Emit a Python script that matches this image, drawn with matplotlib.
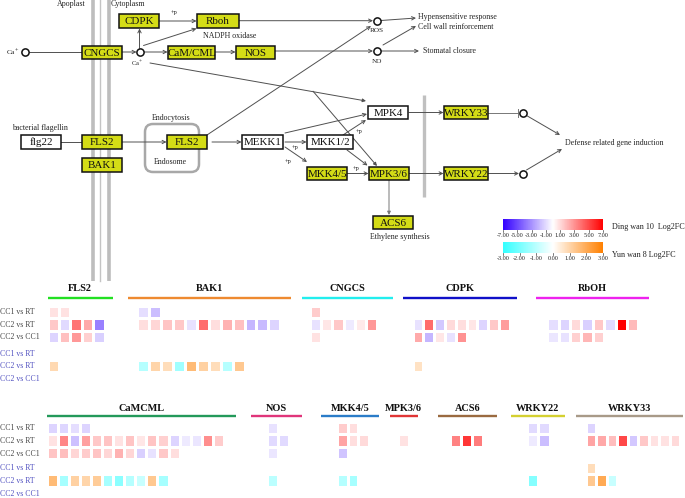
import numpy as np
import matplotlib
matplotlib.use('Agg')
import matplotlib.pyplot as plt
from matplotlib.colors import LinearSegmentedColormap, Normalize
from matplotlib.patches import Rectangle, FancyBboxPatch

plt.rcParams['font.family'] = ['Liberation Serif', 'DejaVu Serif']
plt.rcParams['mathtext.fontset'] = 'stix'

# ---------------- data ----------------
comparisons = ['CC1 vs RT', 'CC2 vs RT', 'CC2 vs CC1']
top_genes = ['FLS2', 'BAK1', 'CNGCS', 'CDPK', 'RbOH']
bottom_genes = ['CaMCML', 'NOS', 'MKK4/5', 'MPK3/6', 'ACS6', 'WRKY22', 'WRKY33']

# Ding wan 10 Log2FC (rows: CC1 vs RT, CC2 vs RT, CC2 vs CC1)
fls2_ding = [[0.8, 0.8], [1.5, -1.0, 3.8, 2.3, -3.5], [-1.2, 1.7, 2.8, 1.3, -1.3]]
bak1_ding = [[-0.9, -1.8], [0.9, 1.1, 1.6, 1.5, -0.8, 4.0, 0.9, 2.1, 1.7, -2.0, -1.9, -1.2], []]
cngcs_ding = [[1.4], [-0.8, 0.7, 1.5, -0.6, 0.6, 2.8], [0.8]]
cdpk_ding = [[], [-0.8, 4.0, -1.5, 1.0, 0.9, 0.7, -1.2, 1.5, 2.7], [2.3, -2.0, 0.7, -0.8, 3.0]]
rboh_ding = [[], [-0.9, -1.2, 1.0, -1.3, 1.5, -1.0, 7.0, 1.9], [-0.7, -0.8, 1.3, 2.0, 1.3]]
camcml_ding = [[-1.2, -1.1, -0.9, -1.2],
               [0.8, 3.3, -1.7, 2.6, 1.5, 1.6, 0.8, 1.6, 0.7, 1.6, 1.3, -1.2, -0.6, -0.7, 3.1, 1.4],
               [1.6, 1.8, 1.1, 1.4, 1.6, 1.1, 2.1, 1.1, -1.3, -0.8, 1.5, 0.9]]
nos_ding = [[-0.8], [-1.0, -1.0], [-0.7]]
mkk45_ding = [[1.4, 0.9], [2.5, 0.9, 1.0], [-1.6]]
mpk36_ding = [[], [0.8], []]
acs6_ding = [[], [3.4, 5.5, 3.6], []]
wrky22_ding = [[-1.0, -1.0], [-0.6, -1.8], []]
wrky33_ding = [[-1.2], [2.5, 2.4, 1.8, 5.0, -1.5, 1.5, 0.8, 0.8, 1.0], []]

# Yun wan 8 Log2FC
fls2_yun = [[], [0.9], []]
bak1_yun = [[], [-1.1, 1.0, 0.8, -1.4, 1.6, 1.1, 0.8, -1.1, 1.3], []]
cngcs_yun = [[], [], []]
cdpk_yun = [[], [0.7], []]
rboh_yun = [[], [], []]
camcml_yun = [[], [1.6, -1.3, 1.1, 1.0, 1.2, -1.3, -1.7, -1.1, -0.8, 1.3, -1.3], []]
nos_yun = [[], [-1.0], []]
mkk45_yun = [[], [-1.1, -1.3], []]
mpk36_yun = [[], [], []]
acs6_yun = [[], [], []]
wrky22_yun = [[], [-1.8], []]
wrky33_yun = [[0.8], [1.3, 2.0, -0.8], []]

ding_ticks = [-7, -5, -3, -1, 1, 3, 5, 7]
yun_ticks = [-3, -2, -1, 0, 1, 2, 3]

# ---------------- figure ----------------
fig = plt.figure(figsize=(6.85, 4.98), dpi=100)
ax = fig.add_axes([0, 0, 1, 1])
ax.set_xlim(0, 685)
ax.set_ylim(498, 0)
ax.axis('off')

ding_cmap = LinearSegmentedColormap.from_list('ding', ['#3300ff', '#ffffff', '#ff0000'])
yun_cmap = LinearSegmentedColormap.from_list('yun', ['#33ffff', '#ffffff', '#ff8000'])
ding_norm = Normalize(-7, 7)
yun_norm = Normalize(-3, 3)

YEL = '#d4dc16'
LC = '#505050'


def box(x0, y0, x1, y1, label, fill=YEL, fs=7.9):
    ax.add_patch(Rectangle((x0, y0), x1 - x0, y1 - y0, facecolor=fill,
                           edgecolor='#111111', lw=1.1, zorder=3))
    ax.text((x0 + x1) / 2, (y0 + y1) / 2 + 0.5, label, ha='center', va='center',
            fontsize=fs, zorder=4, color='#111111')


def arrow(p0, p1, style='->', color=LC, lw=0.7, ms=6):
    ax.annotate('', xy=p1, xytext=p0,
                arrowprops=dict(arrowstyle=style, color=color, lw=lw,
                                shrinkA=0, shrinkB=0, mutation_scale=ms), zorder=2)


def line(p0, p1, color=LC, lw=0.7):
    ax.plot([p0[0], p1[0]], [p0[1], p1[1]], color=color, lw=lw, zorder=2)


def circ(x, y):
    ax.plot(x, y, 'o', ms=5.2, mfc='white', mec='#111111', mew=1.1, zorder=5)


def txt(x, y, s, fs=5.7, ha='center', color='#222222', **kw):
    ax.text(x, y, s, fontsize=fs, ha=ha, va='center', color=color, **kw)


# membranes
ax.plot([93.3, 93.3], [0, 281], color='#bdbdbd', lw=2.6, zorder=1, solid_capstyle='butt')
ax.plot([100.5, 100.5], [0, 281], color='#c4c4c4', lw=1.0, zorder=1)
ax.plot([109.3, 109.3], [0, 281], color='#bdbdbd', lw=2.6, zorder=1, solid_capstyle='butt')
ax.plot([424.3, 424.3], [95, 197], color='#c0c0c0', lw=2.4, zorder=1, solid_capstyle='butt')

txt(71, 4, 'Apoplast')
txt(128, 4, 'Cytoplasm')

# top row
txt(13, 52, 'Ca$^{+}$', fs=5.2)
circ(25, 52)
line((28, 52), (82, 52))
box(82, 46, 122, 59, 'CNGCS')
circ(140, 52)
arrow((122, 52), (136.5, 52))
txt(137, 63.5, 'Ca$^{+}$', fs=4.6)
box(119, 14, 159, 28, 'CDPK')
arrow((139.5, 48.5), (139.5, 28.5))
box(197, 14, 239, 28, 'Rboh')
arrow((159, 21), (196.5, 21))
txt(174, 12, '+p', fs=4.5)
arrow((143.5, 45.5), (196.5, 28.5))
txt(230, 36, 'NADPH oxidase')
box(168, 46, 215, 59, 'CaM/CML')
arrow((143.5, 52), (167.5, 52))
box(236, 46, 275, 59, 'NOS')
arrow((215, 52), (235.5, 52))
circ(376.7, 20.7)
circ(376.7, 50.7)
arrow((239, 20.7), (373, 20.7))
arrow((275, 51), (373, 51))
txt(376.7, 30, 'ROS', fs=5.2)
txt(376.7, 61, 'NO', fs=5.2)
arrow((381, 20.5), (416, 18))
arrow((383, 45), (416, 26))
arrow((381, 51), (419, 51))
txt(418, 16.5, 'Hypensensitive response', ha='left')
txt(418, 27, 'Cell wall reinforcement', ha='left')
txt(423, 51, 'Stomatal closure', ha='left')

# Ca line to MPK4 and branch to MPK3/6
arrow((150, 63), (366, 101), style='-|>', ms=5)
arrow((313, 91.2), (377, 166), style='-|>', ms=5)

# middle row
txt(40, 127.5, 'bacterial flagellin')
box(21, 135, 61, 149, 'flg22', fill='white')
line((61, 142), (82, 142))
box(82, 135, 122, 149, 'FLS2')
box(82, 158, 122, 172, 'BAK1')
ax.add_patch(FancyBboxPatch((145, 124), 54, 48, boxstyle='round,pad=0,rounding_size=8',
                            facecolor='none', edgecolor='#a8a8a8', lw=1.8, zorder=1))
txt(171, 117.5, 'Endocytosis')
txt(170, 161.5, 'Endosome')
arrow((122, 142), (166.5, 142))
box(167, 135, 207, 149, 'FLS2')
arrow((207, 135), (371, 26))
arrow((212, 142), (241.5, 142))
box(242, 135, 283, 149, 'MEKK1', fill='white')
arrow((285, 142), (306.5, 142))
txt(295, 147.5, '+p', fs=4.5)
box(307, 135, 353, 149, 'MKK1/2', fill='white')
arrow((285, 147), (307, 162))
txt(288, 161, '+p', fs=4.5)
box(307, 167, 347, 180, 'MKK4/5')
arrow((347, 173.5), (368.5, 173.5))
txt(356, 168.5, '+p', fs=4.5)
box(369, 167, 409, 180, 'MPK3/6')
arrow((347, 150), (367.5, 165.5))
arrow((285, 133), (367, 114))
arrow((343, 135), (366, 120))
txt(359, 131, '+p', fs=4.5)
box(368, 106, 408, 119, 'MPK4', fill='white')
arrow((389, 180), (389, 215), color='#777777', style='-|>', ms=5)
box(373, 216, 413, 229, 'ACS6')
txt(400, 237, 'Ethylene synthesis')
arrow((409, 112.5), (443.5, 112.5))
box(444, 106, 488, 119, 'WRKY33')
line((488, 112.5), (518, 112.5), color='#777777')
line((518, 108.5), (518, 116.5), color='#777777')
circ(522.7, 112.5)
arrow((409, 173.5), (443.5, 173.5))
box(444, 167, 488, 180, 'WRKY22')
arrow((488, 173.5), (519, 173.5))
circ(522.7, 173.5)
arrow((526.5, 115.5), (560, 135))
arrow((526.5, 170), (562, 149))
txt(565, 143, 'Defense related gene induction', ha='left')

# legends (colour bars)
xs = np.linspace(503, 603, 257)
ax.pcolormesh(xs, [219, 230], np.linspace(-7, 7, 256)[None, :], cmap=ding_cmap, norm=ding_norm,
              shading='flat', zorder=2)
ax.pcolormesh(xs, [242, 253], np.linspace(-3, 3, 256)[None, :], cmap=yun_cmap, norm=yun_norm,
              shading='flat', zorder=2)
for v in ding_ticks:
    x = 503 + (v + 7) / 14 * 100
    line((x, 230), (x, 232), color='#444444', lw=0.5)
    txt(x, 235.5, '%.2f' % v, fs=4.4)
for v in yun_ticks:
    x = 503 + (v + 3) / 6 * 100
    line((x, 253), (x, 255), color='#444444', lw=0.5)
    txt(x, 258.5, '%.2f' % v, fs=4.4)
txt(612, 226.5, 'Ding wan 10  Log2FC', fs=5.9, ha='left')
txt(612, 255, 'Yun wan 8 Log2FC', fs=5.9, ha='left')

# ---------------- heatmaps ----------------
top_layout = {
    'FLS2':  dict(x0=47.7, w=11.4, lx=(47.7, 112.7), c='#22e022', d=fls2_ding, y=fls2_yun),
    'BAK1':  dict(x0=137.0, w=11.95, lx=(127.7, 291), c='#ee8a30', d=bak1_ding, y=bak1_yun),
    'CNGCS': dict(x0=310.0, w=11.2, lx=(302, 393), c='#22eeee', d=cngcs_ding, y=cngcs_yun),
    'CDPK':  dict(x0=412.7, w=10.8, lx=(403, 517), c='#1010c8', d=cdpk_ding, y=cdpk_yun),
    'RbOH':  dict(x0=547.3, w=11.4, lx=(536, 649), c='#ee22ee', d=rboh_ding, y=rboh_yun),
}
bottom_layout = {
    'CaMCML': dict(x0=46.7, w=11.08, lx=(47.5, 236), c='#23995a', d=camcml_ding, y=camcml_yun),
    'NOS':    dict(x0=266.7, w=11.2, lx=(251, 302), c='#e0357a', d=nos_ding, y=nos_yun),
    'MKK4/5': dict(x0=336.7, w=10.9, lx=(321.5, 379), c='#2a7cc8', d=mkk45_ding, y=mkk45_yun),
    'MPK3/6': dict(x0=398.3, w=10.7, lx=(390, 417.7), c='#e03535', d=mpk36_ding, y=mpk36_yun),
    'ACS6':   dict(x0=450.0, w=11.1, lx=(438.5, 496.7), c='#9a6a40', d=acs6_ding, y=acs6_yun),
    'WRKY22': dict(x0=526.7, w=11.7, lx=(510.7, 565), c='#d4d030', d=wrky22_ding, y=wrky22_yun),
    'WRKY33': dict(x0=585.7, w=10.5, lx=(576, 683), c='#a89a88', d=wrky33_ding, y=wrky33_yun),
}


def pad(rows):
    n = max(max(len(r) for r in rows), 1)
    m = np.full((3, n), np.nan)
    for i, r in enumerate(rows):
        m[i, :len(r)] = r
    return m


def draw_block(genes, layout, line_y, title_y, ding_edges, yun_edges):
    for g in genes:
        L = layout[g]
        ax.plot(L['lx'], [line_y, line_y], color=L['c'], lw=1.7, solid_capstyle='butt')
        txt((L['lx'][0] + L['lx'][1]) / 2, title_y, g, fs=7.4, fontweight='bold', color='#111111')
        for rows, edges, cmap, norm in ((L['d'], ding_edges, ding_cmap, ding_norm),
                                        (L['y'], yun_edges, yun_cmap, yun_norm)):
            m = pad(rows)
            if np.all(np.isnan(m)):
                continue
            xe = L['x0'] + np.arange(m.shape[1] + 1) * L['w']
            ax.pcolormesh(xe, edges, np.ma.masked_invalid(m), cmap=cmap, norm=norm,
                          edgecolors='white', linewidth=0.9, shading='flat')
    for i, c in enumerate(comparisons):
        yc = (ding_edges[i] + ding_edges[i + 1]) / 2
        txt(0, yc + 0.5, c, fs=5.6, ha='left', color='#444444')
        yc = (yun_edges[i] + yun_edges[i + 1]) / 2
        txt(0, yc + 0.5, c, fs=5.6, ha='left', color='#4f4fc0')


draw_block(top_genes, top_layout, 297.7, 288.5,
           [305.5, 318.0, 330.5, 343.0], [347.3, 359.7, 372.1, 384.5])
draw_block(bottom_genes, bottom_layout, 415.7, 408.5,
           [421.5, 434.0, 446.8, 459.3], [461.6, 474.2, 486.8, 499.4])

ax.set_xlim(0, 685)
ax.set_ylim(498, 0)
fig.savefig('out.png', dpi=100)
